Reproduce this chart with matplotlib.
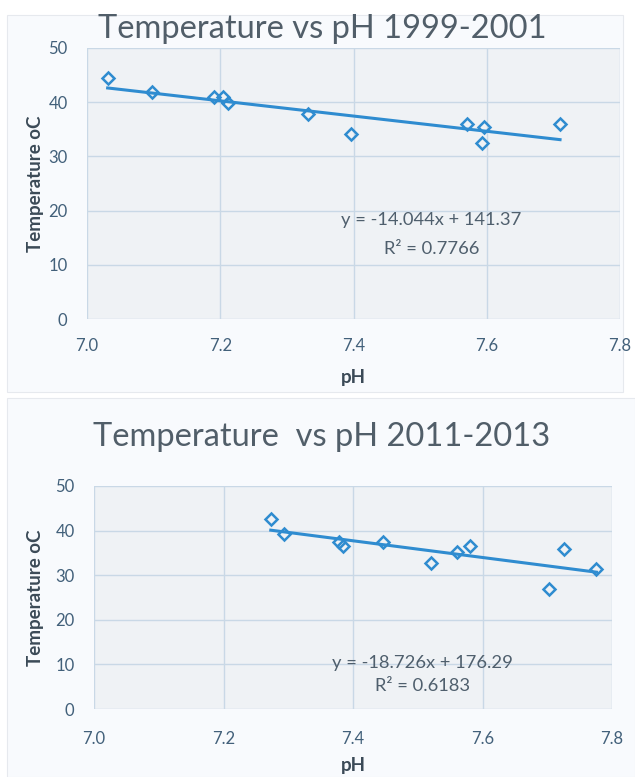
import matplotlib
matplotlib.use("Agg")
import matplotlib.pyplot as plt
import numpy as np
from matplotlib.patches import Rectangle

plt.rcParams['font.family'] = ['Lato', 'DejaVu Sans']
plt.rcParams['hatch.color'] = '#e2e6ec'
plt.rcParams['hatch.linewidth'] = 0.5

# ---- data ----
title1 = "Temperature vs pH 1999-2001"
ph1 = [7.031, 7.098, 7.191, 7.204, 7.212, 7.332, 7.396, 7.571, 7.596, 7.593, 7.710]
temp1 = [44.4, 41.8, 41.0, 41.0, 39.8, 37.8, 34.2, 35.9, 35.4, 32.5, 36.0]
slope1, intercept1, r2_1 = -14.044, 141.37, 0.7766

title2 = "Temperature  vs pH 2011-2013"
ph2 = [7.273, 7.293, 7.379, 7.385, 7.447, 7.521, 7.560, 7.580, 7.726, 7.702, 7.776]
temp2 = [42.6, 39.3, 37.4, 36.5, 37.4, 32.7, 35.3, 36.5, 35.9, 27.0, 31.4]
slope2, intercept2, r2_2 = -18.726, 176.29, 0.6183

x_ticks = [7.0, 7.2, 7.4, 7.6, 7.8]
y_ticks = [0, 10, 20, 30, 40, 50]
x_label = "pH"
y_label = "Temperature oC"

W, H = 635, 777
fig = plt.figure(figsize=(W / 100, H / 100), dpi=100, facecolor='white')

def fx(px):
    return px / W

def fy(py):
    return 1 - py / H

# chart area backgrounds and faint borders
fig.patches.append(Rectangle((fx(7), fy(392)), fx(616), 377 / H, transform=fig.transFigure,
                             facecolor='#f8fafd', edgecolor='#e6e9ee', lw=0.8, zorder=-5))
fig.patches.append(Rectangle((fx(7), 0), fx(628), 379 / H, transform=fig.transFigure,
                             facecolor='#f8fafd', edgecolor='#e6e9ee', lw=0.8, zorder=-5))

blue = '#2f8cd0'
tick_col = '#42607a'
title_col = '#515e69'
lab_col = '#3b4a57'
eq_col = '#4f5f6d'

def make_panel(rect, ph, temp, slope, intercept, r2, title, title_y, eq_xy, xlab_y, ylab_x, pad_x, pad_y):
    ax = fig.add_axes(rect)
    ax.set_zorder(2)
    ax.set_facecolor('#eff2f5')
    ax.add_patch(Rectangle((0, 0), 1, 1, transform=ax.transAxes, facecolor='none',
                           edgecolor='none', hatch='//////', zorder=0))
    ax.set_xlim(7.0, 7.8)
    ax.set_ylim(0, 50)
    ax.set_xticks(x_ticks)
    ax.set_xticklabels([f"{v:.1f}" for v in x_ticks])
    ax.set_yticks(y_ticks)
    ax.grid(True, color='#c9d8e6', lw=1.0, zorder=1)
    ax.set_axisbelow(True)
    for s in ax.spines.values():
        s.set_visible(False)
    ax.tick_params(length=0, labelsize=12, colors=tick_col)
    ax.tick_params(axis='x', pad=pad_x)
    ax.tick_params(axis='y', pad=pad_y)
    xs = np.array([min(ph), max(ph)])
    ax.plot(xs, slope * xs + intercept, color=blue, lw=2.2, zorder=3)
    ax.plot(ph, temp, linestyle='none', marker='D', ms=6.5, mfc='none', mec=blue, mew=1.8, zorder=4)
    ax.text(eq_xy[0], eq_xy[1], f"y = {slope}x + {intercept}", ha='center', va='center',
            fontsize=13.2, color=eq_col, zorder=5)
    ax.text(eq_xy[0], eq_xy[1] - 5.3, f"R\u00b2 = {r2}", ha='center', va='center',
            fontsize=13.2, color=eq_col, zorder=5)
    fig.text(fx(322), fy(title_y), title, ha='center', va='center', fontsize=23.5,
             color=title_col, zorder=5)
    fig.text(rect[0] + rect[2] / 2, fy(xlab_y), x_label, ha='center', va='center',
             fontsize=13.5, fontweight='bold', color=lab_col, zorder=5)
    fig.text(fx(ylab_x), rect[1] + rect[3] / 2, y_label, ha='center', va='center', rotation=90,
             fontsize=13.5, fontweight='bold', color=lab_col, zorder=5)
    return ax

# top panel: plot area px x 87..620, y 48..319
make_panel([fx(87), fy(319), 533 / W, 271 / H], ph1, temp1, slope1, intercept1, r2_1,
           title1, 29, (7.517, 18.3), 378, 35, 14, 14)
# bottom panel: plot area px x 94..612, y 486..709
make_panel([fx(94), fy(709), 518 / W, 223 / H], ph2, temp2, slope2, intercept2, r2_2,
           title2, 437, (7.508, 10.4), 765, 35, 16, 14)

fig.savefig("out.png", dpi=100, facecolor='white')
